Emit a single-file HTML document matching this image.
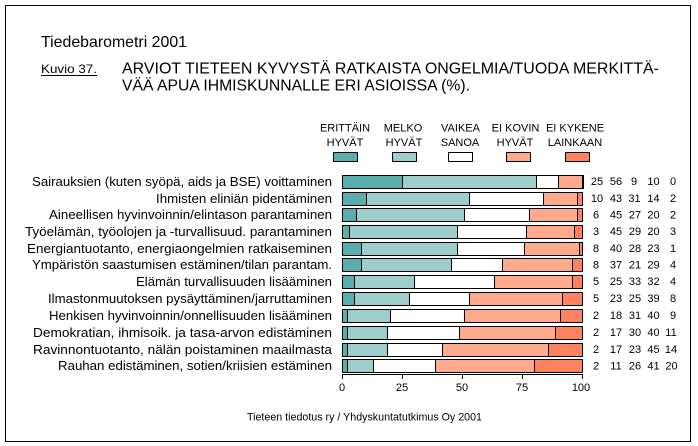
<!DOCTYPE html>
<html><head><meta charset="utf-8"><style>
html,body{margin:0;padding:0;background:#fff;}
svg{display:block;}
text{font-family:"Liberation Sans",Arial,sans-serif;fill:#000;}
</style></head><body>
<svg width="698" height="446" viewBox="0 0 698 446" xmlns="http://www.w3.org/2000/svg" shape-rendering="crispEdges">
<rect x="0" y="0" width="698" height="446" fill="#fff"/>
<rect x="5.5" y="5.5" width="685" height="436" fill="none" stroke="#000" stroke-width="1"/>

<text x="41" y="47" font-size="16" textLength="146" lengthAdjust="spacingAndGlyphs">Tiedebarometri 2001</text>
<text x="41" y="73" font-size="12" textLength="56" lengthAdjust="spacingAndGlyphs">Kuvio 37.</text>
<line x1="41" y1="75.5" x2="97" y2="75.5" stroke="#000" stroke-width="1"/>
<text x="122" y="73.5" font-size="16" textLength="537" lengthAdjust="spacingAndGlyphs">ARVIOT TIETEEN KYVYSTÄ RATKAISTA ONGELMIA/TUODA MERKITTÄ-</text>
<text x="122" y="90.5" font-size="16" textLength="348" lengthAdjust="spacingAndGlyphs">VÄÄ APUA IHMISKUNNALLE ERI ASIOISSA (%).</text>

<!-- legend -->
<g font-size="11" text-anchor="middle">
<text x="345" y="131.5">ERITTÄIN</text><text x="345" y="146">HYVÄT</text>
<text x="403" y="131.5">MELKO</text><text x="404" y="146">HYVÄT</text>
<text x="460.5" y="131.5" textLength="39" lengthAdjust="spacing">VAIKEA</text><text x="460" y="146">SANOA</text>
<text x="515.5" y="131.5">EI KOVIN</text><text x="515" y="146">HYVÄT</text>
<text x="575" y="131.5">EI KYKENE</text><text x="575" y="146">LAINKAAN</text>
</g>
<g stroke="#000" stroke-width="1">
<rect x="333.5" y="152.5" width="24" height="9" fill="#5AAFAE"/>
<rect x="392.5" y="152.5" width="24" height="9" fill="#9ECDCB"/>
<rect x="448.5" y="152.5" width="24" height="9" fill="#FFFFFF"/>
<rect x="506.5" y="152.5" width="24" height="9" fill="#FFAA8F"/>
<rect x="565.5" y="152.5" width="24" height="9" fill="#FF8260"/>
</g>

<!-- labels -->
<g font-size="13" text-anchor="end">
<text x="332" y="186" textLength="300" lengthAdjust="spacingAndGlyphs">Sairauksien (kuten syöpä, aids ja BSE) voittaminen</text>
<text x="332" y="203" textLength="176" lengthAdjust="spacingAndGlyphs">Ihmisten eliniän pidentäminen</text>
<text x="332" y="219" textLength="283" lengthAdjust="spacingAndGlyphs">Aineellisen hyvinvoinnin/elintason parantaminen</text>
<text x="332" y="236" textLength="307" lengthAdjust="spacingAndGlyphs">Työelämän, työolojen ja -turvallisuud. parantaminen</text>
<text x="332" y="253" textLength="305" lengthAdjust="spacingAndGlyphs">Energiantuotanto, energiaongelmien ratkaiseminen</text>
<text x="332" y="269" textLength="300" lengthAdjust="spacingAndGlyphs">Ympäristön saastumisen estäminen/tilan parantam.</text>
<text x="332" y="286" textLength="196" lengthAdjust="spacingAndGlyphs">Elämän turvallisuuden lisääminen</text>
<text x="332" y="303" textLength="284" lengthAdjust="spacingAndGlyphs">Ilmastonmuutoksen pysäyttäminen/jarruttaminen</text>
<text x="332" y="320" textLength="283" lengthAdjust="spacingAndGlyphs">Henkisen hyvinvoinnin/onnellisuuden lisääminen</text>
<text x="332" y="337" textLength="299" lengthAdjust="spacingAndGlyphs">Demokratian, ihmisoik. ja tasa-arvon edistäminen</text>
<text x="332" y="354" textLength="299" lengthAdjust="spacingAndGlyphs">Ravinnontuotanto, nälän poistaminen maailmasta</text>
<text x="332" y="370" textLength="274" lengthAdjust="spacingAndGlyphs">Rauhan edistäminen, sotien/kriisien estäminen</text>
</g>

<!-- bars -->
<g stroke="none">
<!-- row1 -->
<g transform="translate(0,175)">
<rect x="342" y="0" width="60" height="13" fill="#5AAFAE"/><rect x="402" y="0" width="134" height="13" fill="#9ECDCB"/><rect x="536" y="0" width="22" height="13" fill="#fff"/><rect x="558" y="0" width="24" height="13" fill="#FFAA8F"/>
<g stroke="#000"><line x1="402.5" y1="0" x2="402.5" y2="13"/><line x1="536.5" y1="0" x2="536.5" y2="13"/><line x1="558.5" y1="0" x2="558.5" y2="13"/><line x1="583.5" y1="0" x2="583.5" y2="14"/><rect x="342.5" y="0.5" width="240" height="13" fill="none"/></g>
</g>
<!-- row2 -->
<g transform="translate(0,192)">
<rect x="342" y="0" width="24" height="13" fill="#5AAFAE"/><rect x="366" y="0" width="103" height="13" fill="#9ECDCB"/><rect x="469" y="0" width="74" height="13" fill="#fff"/><rect x="543" y="0" width="34" height="13" fill="#FFAA8F"/><rect x="577" y="0" width="5" height="13" fill="#FF8260"/>
<g stroke="#000"><line x1="366.5" y1="0" x2="366.5" y2="13"/><line x1="469.5" y1="0" x2="469.5" y2="13"/><line x1="543.5" y1="0" x2="543.5" y2="13"/><line x1="577.5" y1="0" x2="577.5" y2="13"/><rect x="342.5" y="0.5" width="240" height="13" fill="none"/></g>
</g>
<!-- row3 -->
<g transform="translate(0,208)">
<rect x="342" y="0" width="14" height="13" fill="#5AAFAE"/><rect x="356" y="0" width="108" height="13" fill="#9ECDCB"/><rect x="464" y="0" width="65" height="13" fill="#fff"/><rect x="529" y="0" width="48" height="13" fill="#FFAA8F"/><rect x="577" y="0" width="5" height="13" fill="#FF8260"/>
<g stroke="#000"><line x1="356.5" y1="0" x2="356.5" y2="13"/><line x1="464.5" y1="0" x2="464.5" y2="13"/><line x1="529.5" y1="0" x2="529.5" y2="13"/><line x1="577.5" y1="0" x2="577.5" y2="13"/><rect x="342.5" y="0.5" width="240" height="13" fill="none"/></g>
</g>
<!-- row4 -->
<g transform="translate(0,225)">
<rect x="342" y="0" width="7" height="13" fill="#5AAFAE"/><rect x="349" y="0" width="108" height="13" fill="#9ECDCB"/><rect x="457" y="0" width="69" height="13" fill="#fff"/><rect x="526" y="0" width="48" height="13" fill="#FFAA8F"/><rect x="574" y="0" width="8" height="13" fill="#FF8260"/>
<g stroke="#000"><line x1="349.5" y1="0" x2="349.5" y2="13"/><line x1="457.5" y1="0" x2="457.5" y2="13"/><line x1="526.5" y1="0" x2="526.5" y2="13"/><line x1="574.5" y1="0" x2="574.5" y2="13"/><rect x="342.5" y="0.5" width="240" height="13" fill="none"/></g>
</g>
<!-- row5 -->
<g transform="translate(0,242)">
<rect x="342" y="0" width="19" height="13" fill="#5AAFAE"/><rect x="361" y="0" width="96" height="13" fill="#9ECDCB"/><rect x="457" y="0" width="67" height="13" fill="#fff"/><rect x="524" y="0" width="55" height="13" fill="#FFAA8F"/><rect x="579" y="0" width="3" height="13" fill="#FF8260"/>
<g stroke="#000"><line x1="361.5" y1="0" x2="361.5" y2="13"/><line x1="457.5" y1="0" x2="457.5" y2="13"/><line x1="524.5" y1="0" x2="524.5" y2="13"/><line x1="579.5" y1="0" x2="579.5" y2="13"/><rect x="342.5" y="0.5" width="240" height="13" fill="none"/></g>
</g>
<!-- row6 -->
<g transform="translate(0,258)">
<rect x="342" y="0" width="19" height="13" fill="#5AAFAE"/><rect x="361" y="0" width="90" height="13" fill="#9ECDCB"/><rect x="451" y="0" width="51" height="13" fill="#fff"/><rect x="502" y="0" width="70" height="13" fill="#FFAA8F"/><rect x="572" y="0" width="10" height="13" fill="#FF8260"/>
<g stroke="#000"><line x1="361.5" y1="0" x2="361.5" y2="13"/><line x1="451.5" y1="0" x2="451.5" y2="13"/><line x1="502.5" y1="0" x2="502.5" y2="13"/><line x1="572.5" y1="0" x2="572.5" y2="13"/><rect x="342.5" y="0.5" width="240" height="13" fill="none"/></g>
</g>
<!-- row7 -->
<g transform="translate(0,275)">
<rect x="342" y="0" width="12" height="13" fill="#5AAFAE"/><rect x="354" y="0" width="60" height="13" fill="#9ECDCB"/><rect x="414" y="0" width="80" height="13" fill="#fff"/><rect x="494" y="0" width="78" height="13" fill="#FFAA8F"/><rect x="572" y="0" width="10" height="13" fill="#FF8260"/>
<g stroke="#000"><line x1="354.5" y1="0" x2="354.5" y2="13"/><line x1="414.5" y1="0" x2="414.5" y2="13"/><line x1="494.5" y1="0" x2="494.5" y2="13"/><line x1="572.5" y1="0" x2="572.5" y2="13"/><rect x="342.5" y="0.5" width="240" height="13" fill="none"/></g>
</g>
<!-- row8 -->
<g transform="translate(0,292)">
<rect x="342" y="0" width="12" height="13" fill="#5AAFAE"/><rect x="354" y="0" width="55" height="13" fill="#9ECDCB"/><rect x="409" y="0" width="60" height="13" fill="#fff"/><rect x="469" y="0" width="93" height="13" fill="#FFAA8F"/><rect x="562" y="0" width="20" height="13" fill="#FF8260"/>
<g stroke="#000"><line x1="354.5" y1="0" x2="354.5" y2="13"/><line x1="409.5" y1="0" x2="409.5" y2="13"/><line x1="469.5" y1="0" x2="469.5" y2="13"/><line x1="562.5" y1="0" x2="562.5" y2="13"/><rect x="342.5" y="0.5" width="240" height="13" fill="none"/></g>
</g>
<!-- row9 -->
<g transform="translate(0,309)">
<rect x="342" y="0" width="5" height="13" fill="#5AAFAE"/><rect x="347" y="0" width="43" height="13" fill="#9ECDCB"/><rect x="390" y="0" width="74" height="13" fill="#fff"/><rect x="464" y="0" width="96" height="13" fill="#FFAA8F"/><rect x="560" y="0" width="22" height="13" fill="#FF8260"/>
<g stroke="#000"><line x1="347.5" y1="0" x2="347.5" y2="13"/><line x1="390.5" y1="0" x2="390.5" y2="13"/><line x1="464.5" y1="0" x2="464.5" y2="13"/><line x1="560.5" y1="0" x2="560.5" y2="13"/><rect x="342.5" y="0.5" width="240" height="13" fill="none"/></g>
</g>
<!-- row10 -->
<g transform="translate(0,326)">
<rect x="342" y="0" width="5" height="13" fill="#5AAFAE"/><rect x="347" y="0" width="40" height="13" fill="#9ECDCB"/><rect x="387" y="0" width="72" height="13" fill="#fff"/><rect x="459" y="0" width="96" height="13" fill="#FFAA8F"/><rect x="555" y="0" width="27" height="13" fill="#FF8260"/>
<g stroke="#000"><line x1="347.5" y1="0" x2="347.5" y2="13"/><line x1="387.5" y1="0" x2="387.5" y2="13"/><line x1="459.5" y1="0" x2="459.5" y2="13"/><line x1="555.5" y1="0" x2="555.5" y2="13"/><rect x="342.5" y="0.5" width="240" height="13" fill="none"/></g>
</g>
<!-- row11 -->
<g transform="translate(0,343)">
<rect x="342" y="0" width="5" height="13" fill="#5AAFAE"/><rect x="347" y="0" width="40" height="13" fill="#9ECDCB"/><rect x="387" y="0" width="55" height="13" fill="#fff"/><rect x="442" y="0" width="106" height="13" fill="#FFAA8F"/><rect x="548" y="0" width="34" height="13" fill="#FF8260"/>
<g stroke="#000"><line x1="347.5" y1="0" x2="347.5" y2="13"/><line x1="387.5" y1="0" x2="387.5" y2="13"/><line x1="442.5" y1="0" x2="442.5" y2="13"/><line x1="548.5" y1="0" x2="548.5" y2="13"/><rect x="342.5" y="0.5" width="240" height="13" fill="none"/></g>
</g>
<!-- row12 -->
<g transform="translate(0,359)">
<rect x="342" y="0" width="5" height="13" fill="#5AAFAE"/><rect x="347" y="0" width="26" height="13" fill="#9ECDCB"/><rect x="373" y="0" width="62" height="13" fill="#fff"/><rect x="435" y="0" width="99" height="13" fill="#FFAA8F"/><rect x="534" y="0" width="48" height="13" fill="#FF8260"/>
<g stroke="#000"><line x1="347.5" y1="0" x2="347.5" y2="13"/><line x1="373.5" y1="0" x2="373.5" y2="13"/><line x1="435.5" y1="0" x2="435.5" y2="13"/><line x1="534.5" y1="0" x2="534.5" y2="13"/><rect x="342.5" y="0.5" width="240" height="13" fill="none"/></g>
</g>
</g>

<!-- axis -->
<g stroke="#000" stroke-width="1">
<line x1="342" y1="374.5" x2="583" y2="374.5"/>
<line x1="342.5" y1="374" x2="342.5" y2="379"/>
<line x1="402.5" y1="374" x2="402.5" y2="379"/>
<line x1="462.5" y1="374" x2="462.5" y2="379"/>
<line x1="522.5" y1="374" x2="522.5" y2="379"/>
<line x1="582.5" y1="374" x2="582.5" y2="379"/>
</g>
<g font-size="11" text-anchor="middle">
<text x="342" y="391">0</text>
<text x="402" y="391">25</text>
<text x="462" y="391">50</text>
<text x="522" y="391">75</text>
<text x="581" y="391">100</text>
</g>

<!-- numbers -->
<g font-size="11" text-anchor="middle">
<g transform="translate(0,185)"><text x="597" y="0">25</text><text x="616" y="0">56</text><text x="634" y="0">9</text><text x="653.5" y="0">10</text><text x="673" y="0">0</text></g>
<g transform="translate(0,202)"><text x="597" y="0">10</text><text x="616" y="0">43</text><text x="634.5" y="0">31</text><text x="653.5" y="0">14</text><text x="673" y="0">2</text></g>
<g transform="translate(0,218.5)"><text x="596" y="0">6</text><text x="616" y="0">45</text><text x="635" y="0">27</text><text x="653.5" y="0">20</text><text x="673" y="0">2</text></g>
<g transform="translate(0,235)"><text x="596" y="0">3</text><text x="616" y="0">45</text><text x="635" y="0">29</text><text x="653.5" y="0">20</text><text x="673" y="0">3</text></g>
<g transform="translate(0,252)"><text x="596" y="0">8</text><text x="616" y="0">40</text><text x="635" y="0">28</text><text x="653.5" y="0">23</text><text x="673" y="0">1</text></g>
<g transform="translate(0,268.5)"><text x="596" y="0">8</text><text x="616" y="0">37</text><text x="635" y="0">21</text><text x="653.5" y="0">29</text><text x="673" y="0">4</text></g>
<g transform="translate(0,285)"><text x="596" y="0">5</text><text x="616" y="0">25</text><text x="635" y="0">33</text><text x="653.5" y="0">32</text><text x="673" y="0">4</text></g>
<g transform="translate(0,302)"><text x="596" y="0">5</text><text x="616" y="0">23</text><text x="635" y="0">25</text><text x="653.5" y="0">39</text><text x="673" y="0">8</text></g>
<g transform="translate(0,319)"><text x="596" y="0">2</text><text x="616" y="0">18</text><text x="635" y="0">31</text><text x="653.5" y="0">40</text><text x="673" y="0">9</text></g>
<g transform="translate(0,336)"><text x="596" y="0">2</text><text x="616" y="0">17</text><text x="635" y="0">30</text><text x="653.5" y="0">40</text><text x="671" y="0">11</text></g>
<g transform="translate(0,353)"><text x="596" y="0">2</text><text x="616" y="0">17</text><text x="635" y="0">23</text><text x="653.5" y="0">45</text><text x="671" y="0">14</text></g>
<g transform="translate(0,369.5)"><text x="596" y="0">2</text><text x="616" y="0">11</text><text x="635" y="0">26</text><text x="653.5" y="0">41</text><text x="671.5" y="0">20</text></g>
</g>

<text x="247" y="420.5" font-size="11" textLength="235" lengthAdjust="spacingAndGlyphs">Tieteen tiedotus ry / Yhdyskuntatutkimus Oy 2001</text>
</svg>
</body></html>
